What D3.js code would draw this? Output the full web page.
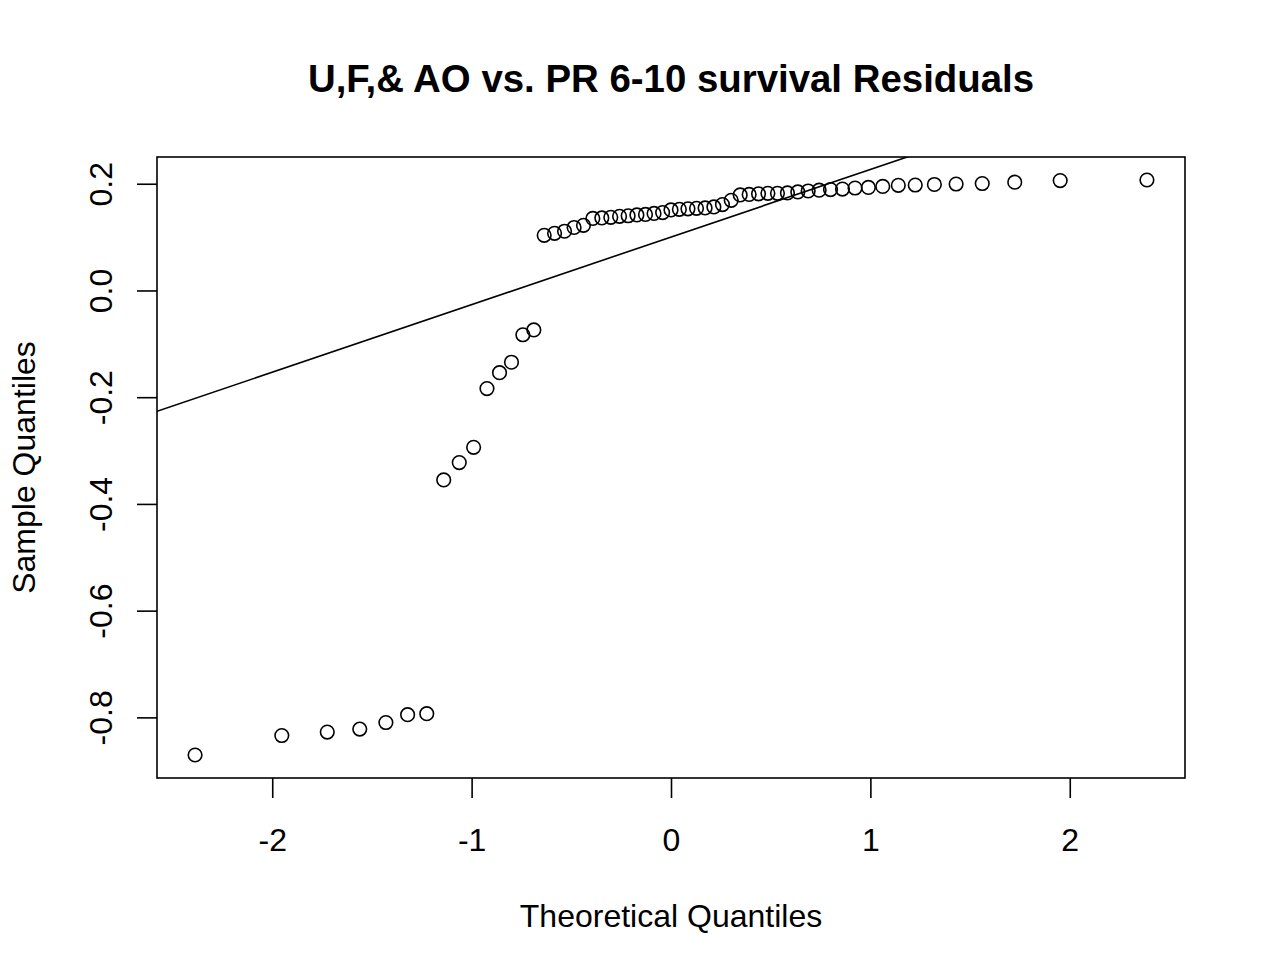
<!DOCTYPE html>
<html>
<head>
<meta charset="utf-8">
<script src="https://cdn.jsdelivr.net/npm/d3@7"></script>
<style>
  html, body { margin: 0; padding: 0; background: #fff; }
  svg { display: block; font-family: "Liberation Sans", Arial, Helvetica, sans-serif; }
</style>
</head>
<body>
<svg id="chart" width="1266" height="976"></svg>
<script>
// Theoretical quantiles (normal scores for 59 points)
const theoretical = [
  -2.387, -1.952, -1.724, -1.561, -1.430, -1.321, -1.225, -1.140, -1.062, -0.990,
  -0.923, -0.860, -0.800, -0.743, -0.688, -0.636, -0.584, -0.534, -0.486, -0.439,
  -0.392, -0.347, -0.302, -0.258, -0.215, -0.171, -0.128, -0.085, -0.042, 0.000,
   0.042,  0.085,  0.128,  0.171,  0.215,  0.258,  0.302,  0.347,  0.392,  0.439,
   0.486,  0.534,  0.584,  0.636,  0.688,  0.743,  0.800,  0.860,  0.923,  0.990,
   1.062,  1.140,  1.225,  1.321,  1.430,  1.561,  1.724,  1.952,  2.387
];
// Sample quantiles (sorted residuals)
const sample = [
  -0.8705, -0.834, -0.8276, -0.822, -0.8096, -0.795, -0.793, -0.355, -0.3226, -0.294,
  -0.1838, -0.154, -0.1345, -0.083, -0.074, 0.1033, 0.107, 0.111, 0.118, 0.122,
   0.135, 0.136, 0.137, 0.139, 0.140, 0.1416, 0.1425, 0.1444, 0.146, 0.151,
   0.152, 0.153, 0.154, 0.1547, 0.1565, 0.161, 0.169, 0.179, 0.180, 0.181,
   0.182, 0.182, 0.1827, 0.1846, 0.1864, 0.188, 0.189, 0.190, 0.192, 0.193,
   0.195, 0.197, 0.1976, 0.1986, 0.1995, 0.2004, 0.203, 0.206, 0.207
];
const xTicks = [-2, -1, 0, 1, 2];
const yTicks = [-0.8, -0.6, -0.4, -0.2, 0.0, 0.2];
const titleText = "U,F,& AO vs. PR 6-10 survival Residuals";
const xLabel = "Theoretical Quantiles";
const yLabel = "Sample Quantiles";

(function () {
const pLeft = 157, pRight = 1185, pTop = 157, pBottom = 778;
const svg = d3.select("#chart");

function padded(ext) {
  const d = (ext[1] - ext[0]) * 0.04;
  return [ext[0] - d, ext[1] + d];
}
const x = d3.scaleLinear().domain(padded(d3.extent(theoretical))).range([pLeft, pRight]);
const y = d3.scaleLinear().domain(padded(d3.extent(sample))).range([pBottom, pTop]);

// qqline through the quartiles
const q1 = d3.quantile(sample, 0.25), q3 = d3.quantile(sample, 0.75);
const z1 = -0.6744898, z3 = 0.6744898;
const slope = (q3 - q1) / (z3 - z1);
const intercept = q1 - slope * z1;

const clip = svg.append("defs").append("clipPath").attr("id", "plotclip");
clip.append("rect").attr("x", pLeft).attr("y", pTop).attr("width", pRight - pLeft).attr("height", pBottom - pTop);

const xd = x.domain();
svg.append("line")
  .attr("clip-path", "url(#plotclip)")
  .attr("x1", x(xd[0])).attr("y1", y(intercept + slope * xd[0]))
  .attr("x2", x(xd[1])).attr("y2", y(intercept + slope * xd[1]))
  .attr("stroke", "#000").attr("stroke-width", 1.6);

svg.append("g").selectAll("circle")
  .data(theoretical.map((t, i) => [t, sample[i]]))
  .join("circle")
  .attr("cx", d => x(d[0])).attr("cy", d => y(d[1]))
  .attr("r", 6.8)
  .attr("fill", "none").attr("stroke", "#000").attr("stroke-width", 1.6);

// box
svg.append("rect")
  .attr("x", pLeft).attr("y", pTop).attr("width", pRight - pLeft).attr("height", pBottom - pTop)
  .attr("fill", "none").attr("stroke", "#000").attr("stroke-width", 1.6);

// x axis
const gx = svg.append("g").attr("transform", `translate(0,${pBottom})`)
  .call(d3.axisBottom(x).tickValues(xTicks).tickSize(20).tickSizeOuter(0).tickFormat(d3.format("d")));
gx.select(".domain").remove();
gx.selectAll(".tick line").attr("stroke-width", 1.6);
gx.selectAll(".tick text")
  .attr("y", 73).attr("dy", 0)
  .attr("font-size", 32).attr("font-family", "Liberation Sans, Arial, sans-serif")
  .text(d => d < 0 ? "-" + Math.abs(d) : String(d));

// y axis
const gy = svg.append("g").attr("transform", `translate(${pLeft},0)`)
  .call(d3.axisLeft(y).tickValues(yTicks).tickSize(20).tickSizeOuter(0));
gy.select(".domain").remove();
gy.selectAll(".tick line").attr("stroke-width", 1.6);
gy.selectAll(".tick text")
  .attr("x", 0).attr("dy", 0)
  .attr("transform", "translate(-45,0) rotate(-90)")
  .attr("text-anchor", "middle")
  .attr("font-size", 32).attr("font-family", "Liberation Sans, Arial, sans-serif")
  .text(d => { const s = Math.abs(d).toFixed(1); return d < -1e-9 ? "-" + s : s; });

// title and axis labels
svg.append("text")
  .attr("x", (pLeft + pRight) / 2).attr("y", 92)
  .attr("text-anchor", "middle").attr("font-weight", "bold").attr("font-size", 38.4)
  .text(titleText);
svg.append("text")
  .attr("x", (pLeft + pRight) / 2).attr("y", 927)
  .attr("text-anchor", "middle").attr("font-size", 32)
  .text(xLabel);
svg.append("text")
  .attr("transform", `translate(35,${(pTop + pBottom) / 2}) rotate(-90)`)
  .attr("text-anchor", "middle").attr("font-size", 32)
  .text(yLabel);
})();
</script>
</body>
</html>
